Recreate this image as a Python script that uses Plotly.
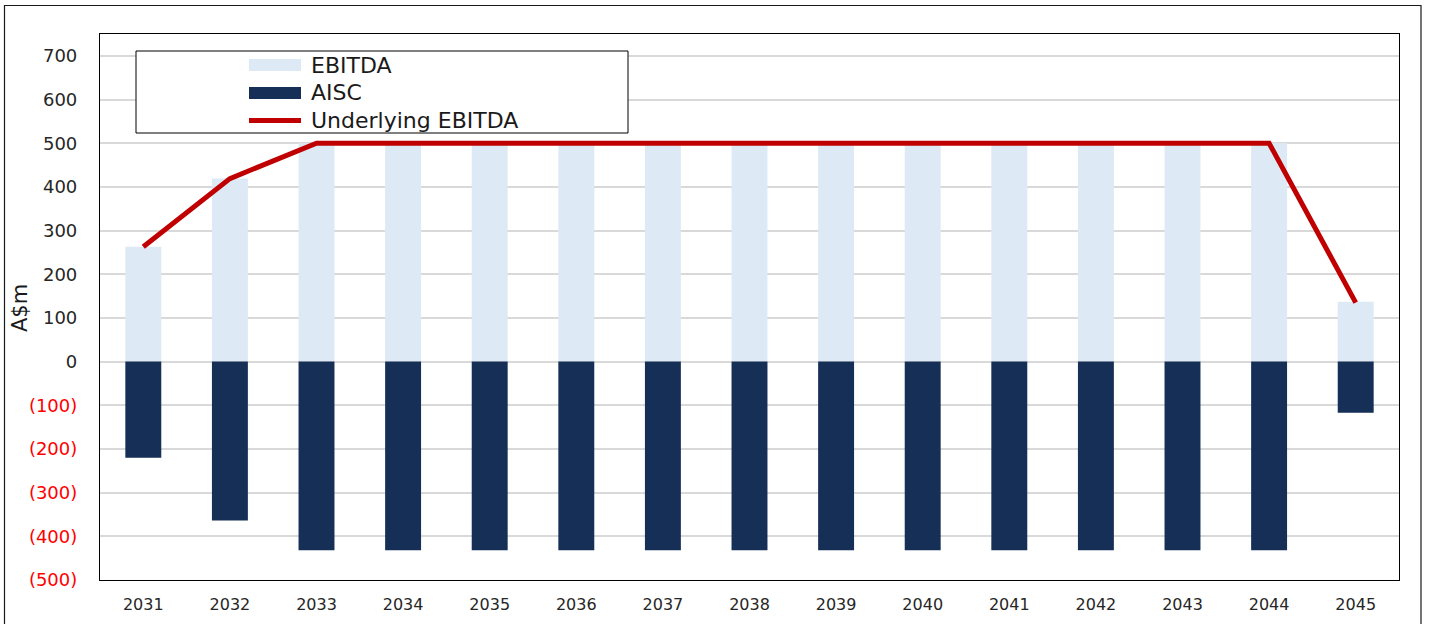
import plotly.graph_objects as go

years = ["2031", "2032", "2033", "2034", "2035", "2036", "2037", "2038",
         "2039", "2040", "2041", "2042", "2043", "2044", "2045"]
ebitda = [263, 419, 500, 500, 500, 500, 500, 500, 500, 500, 500, 500, 500, 500, 137]
aisc = [-220, -364, -432, -432, -432, -432, -432, -432, -432, -432, -432, -432, -432, -432, -117]
underlying = [263, 419, 500, 500, 500, 500, 500, 500, 500, 500, 500, 500, 500, 500, 135]
tick_vals = [-500, -400, -300, -200, -100, 0, 100, 200, 300, 400, 500, 600, 700]
tick_text = ["(500)", "(400)", "(300)", "(200)", "(100)", "0", "100", "200", "300", "400", "500", "600", "700"]

C_EB = "#ddeaf5"
C_AI = "#152f57"
C_LN = "#c00000"
FONT = "DejaVu Sans"

W, H = 1429, 624
L, R, T, B = 100, 1399, 34, 580


def px_x(p):
    return (p - L) / (R - L)


def px_y(p):
    return (B - p) / (B - T)


ticktext_col = [
    (f"<span style='color:#ff0000'>{t}</span>" if v < 0 else t)
    for v, t in zip(tick_vals, tick_text)
]

fig = go.Figure()
fig.add_trace(go.Bar(x=years, y=ebitda, name="EBITDA", marker=dict(color=C_EB, line=dict(width=0)),
                     width=0.415, showlegend=False))
fig.add_trace(go.Bar(x=years, y=aisc, name="AISC", marker=dict(color=C_AI, line=dict(width=0)),
                     width=0.415, showlegend=False))
fig.add_trace(go.Scatter(x=years, y=underlying, name="Underlying EBITDA", mode="lines",
                         line=dict(color=C_LN, width=5), showlegend=False))

shapes = []
# outer frame
shapes.append(dict(type="rect", xref="paper", yref="paper",
                   x0=px_x(4.5), x1=px_x(1421), y0=px_y(640), y1=px_y(5.5),
                   line=dict(color="#1a1a1a", width=1.2), fillcolor="rgba(0,0,0,0)", layer="below"))
# legend box
shapes.append(dict(type="rect", xref="paper", yref="paper",
                   x0=px_x(136), x1=px_x(628), y0=px_y(133), y1=px_y(51),
                   line=dict(color="#000000", width=1), fillcolor="#ffffff", layer="above"))
shapes.append(dict(type="rect", xref="paper", yref="paper",
                   x0=px_x(249), x1=px_x(301), y0=px_y(71), y1=px_y(59),
                   line=dict(width=0), fillcolor=C_EB, layer="above"))
shapes.append(dict(type="rect", xref="paper", yref="paper",
                   x0=px_x(249), x1=px_x(301), y0=px_y(99), y1=px_y(87),
                   line=dict(width=0), fillcolor=C_AI, layer="above"))
shapes.append(dict(type="line", xref="paper", yref="paper",
                   x0=px_x(249), x1=px_x(301), y0=px_y(120.5), y1=px_y(120.5),
                   line=dict(color=C_LN, width=5), layer="above"))

annotations = []
for label, yy in [("EBITDA", 65), ("AISC", 93), ("Underlying EBITDA", 120)]:
    annotations.append(dict(text=label, xref="paper", yref="paper", x=px_x(309), y=px_y(yy),
                            xanchor="left", yanchor="middle", showarrow=False,
                            font=dict(family=FONT, size=22, color="#1a1a1a")))
# y-axis title
annotations.append(dict(text="A$m", xref="paper", yref="paper", x=px_x(20), y=px_y(308),
                        xanchor="center", yanchor="middle", textangle=-90, showarrow=False,
                        font=dict(family=FONT, size=21, color="#1a1a1a")))

fig.update_layout(
    width=W, height=H,
    margin=dict(l=L, r=W - R, t=T, b=H - B, autoexpand=False),
    paper_bgcolor="#ffffff", plot_bgcolor="#ffffff",
    barmode="overlay",
    font=dict(family=FONT, size=17, color="#262626"),
    shapes=shapes, annotations=annotations,
    xaxis=dict(type="category", showgrid=False, showline=True, mirror=True, linecolor="#000000",
               linewidth=1.2, ticks="", tickfont=dict(size=16, color="#262626"),
               ticklabelstandoff=10, range=[-0.5, 14.5]),
    yaxis=dict(range=[-500, 750], tickvals=tick_vals, ticktext=ticktext_col,
               showgrid=True, gridcolor="#d9d9d9", gridwidth=2,
               zeroline=True, zerolinecolor="#d9d9d9", zerolinewidth=2,
               showline=True, mirror=True, linecolor="#000000", linewidth=1.2,
               ticks="", ticklabelstandoff=18, tickfont=dict(size=18, color="#262626")),
)

fig.write_html("out.html", config={"displayModeBar": False},
               post_script="document.body.style.margin='0';document.body.style.padding='0';")
